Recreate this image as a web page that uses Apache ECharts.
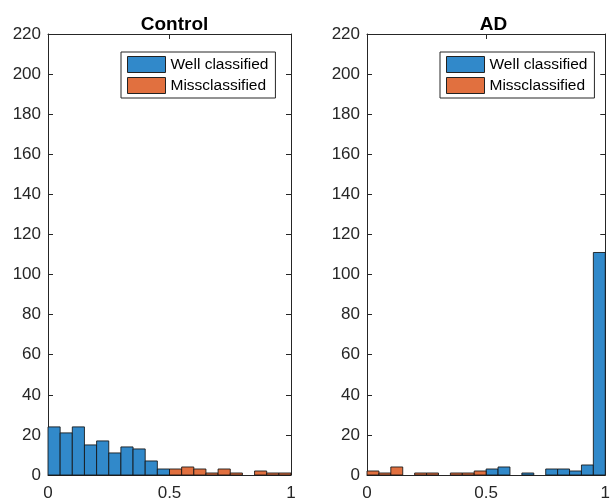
<!DOCTYPE html>
<html>
<head>
<meta charset="utf-8">
<script src="https://cdn.jsdelivr.net/npm/echarts@6/dist/echarts.min.js"></script>
<style>
html,body{margin:0;padding:0;background:#fff;}
#chart{width:613px;height:502px;}
</style>
</head>
<body>
<div id="chart"></div>
<script>
// Bin left edges (bin width 0.05)
const binStarts = [0,0.05,0.1,0.15,0.2,0.25,0.3,0.35,0.4,0.45,0.5,0.55,0.6,0.65,0.7,0.75,0.8,0.85,0.9,0.95];
const binWidth = 0.05;
// Control panel counts
const controlWell = [24,21,24,15,17,11,14,13,7,3,0,0,0,0,0,0,0,0,0,0];
const controlMiss = [0,0,0,0,0,0,0,0,0,0,3,4,3,1,3,1,0,2,1,1];
// AD panel counts
const adWell = [0,0,0,0,0,0,0,0,0,0,3,4,0,1,0,3,3,2,5,111];
const adMiss = [2,1,4,0,1,1,0,1,1,2,0,0,0,0,0,0,0,0,0,0];
const titles = ['Control', 'AD'];
const yTicks = {min:0, max:220, interval:20};
const xTicks = {min:0, max:1, interval:0.5};

const FONT = "'Liberation Sans', Arial, Helvetica, sans-serif";
const AX = '#262626';
const BLUE = '#3189CA';
const ORANGE = '#E1703F';

function toData(counts){
  return counts.map((c,i)=>[binStarts[i], binStarts[i]+binWidth, c]);
}
function renderItem(params, api){
  const x0 = api.value(0), x1 = api.value(1), y = api.value(2);
  if (!y) return null;
  const p0 = api.coord([x0, y]);
  const p1 = api.coord([x1, 0]);
  return {
    type:'rect',
    shape:{x:p0[0], y:p0[1], width:p1[0]-p0[0], height:p1[1]-p0[1]},
    style:{fill: api.visual('color'), stroke:'rgba(20,20,20,0.85)', lineWidth:1}
  };
}

const grids = [
  {left:48, top:34, width:243, height:443},
  {left:367, top:34, width:243, height:443}
];
const xAxes = [], yAxes = [];
grids.forEach((g, gi)=>{
  xAxes.push({gridIndex:gi, type:'value', position:'bottom', min:xTicks.min, max:xTicks.max, interval:xTicks.interval,
    axisLine:{show:true, onZero:false, lineStyle:{color:AX, width:1}},
    axisTick:{show:true, inside:true, length:5, lineStyle:{color:AX}},
    axisLabel:{show:true, color:AX, fontSize:17, fontFamily:FONT, margin:10},
    splitLine:{show:false}});
  xAxes.push({gridIndex:gi, type:'value', position:'top', min:xTicks.min, max:xTicks.max, interval:xTicks.interval,
    axisLine:{show:true, onZero:false, lineStyle:{color:AX, width:1}},
    axisTick:{show:true, inside:true, length:5, lineStyle:{color:AX}},
    axisLabel:{show:false}, splitLine:{show:false}});
  yAxes.push({gridIndex:gi, type:'value', position:'left', min:yTicks.min, max:yTicks.max, interval:yTicks.interval,
    axisLine:{show:true, onZero:false, lineStyle:{color:AX, width:1}},
    axisTick:{show:true, inside:true, length:5, lineStyle:{color:AX}},
    axisLabel:{show:true, color:AX, fontSize:17, fontFamily:FONT, margin:7},
    splitLine:{show:false}});
  yAxes.push({gridIndex:gi, type:'value', position:'right', min:yTicks.min, max:yTicks.max, interval:yTicks.interval,
    axisLine:{show:true, onZero:false, lineStyle:{color:AX, width:1}},
    axisTick:{show:true, inside:true, length:5, lineStyle:{color:AX}},
    axisLabel:{show:false}, splitLine:{show:false}});
});

function series(name, counts, color, gi){
  return {name:name, type:'custom', renderItem:renderItem,
    xAxisIndex:gi*2, yAxisIndex:gi*2,
    itemStyle:{color:color},
    encode:{x:[0,1], y:2},
    data:toData(counts), silent:true, animation:false};
}

function legend(left){
  return {left:left, top:52, orient:'vertical', padding:[4,7,4,6], itemGap:4,
    itemWidth:38, itemHeight:16, borderColor:AX, borderWidth:1, backgroundColor:'#fff',
    icon:'rect', itemStyle:{borderColor:'#222', borderWidth:1},
    textStyle:{fontSize:15.5, color:'#000', fontFamily:FONT},
    selectedMode:false,
    data:['Well classified','Missclassified']};
}

const chart = echarts.init(document.getElementById('chart'), null, {renderer:'canvas'});
chart.setOption({
  backgroundColor:'#fff',
  animation:false,
  title:[
    {text:titles[0], left:169.5, textAlign:'center', top:10, textStyle:{fontSize:19, fontWeight:'bold', color:'#000', fontFamily:FONT}},
    {text:titles[1], left:488.5, textAlign:'center', top:10, textStyle:{fontSize:19, fontWeight:'bold', color:'#000', fontFamily:FONT}}
  ],
  legend:[legend(121), legend(440)],
  grid:grids,
  xAxis:xAxes,
  yAxis:yAxes,
  series:[
    series('Well classified', controlWell, BLUE, 0),
    series('Missclassified', controlMiss, ORANGE, 0),
    series('Well classified', adWell, BLUE, 1),
    series('Missclassified', adMiss, ORANGE, 1)
  ]
});
</script>
</body>
</html>
